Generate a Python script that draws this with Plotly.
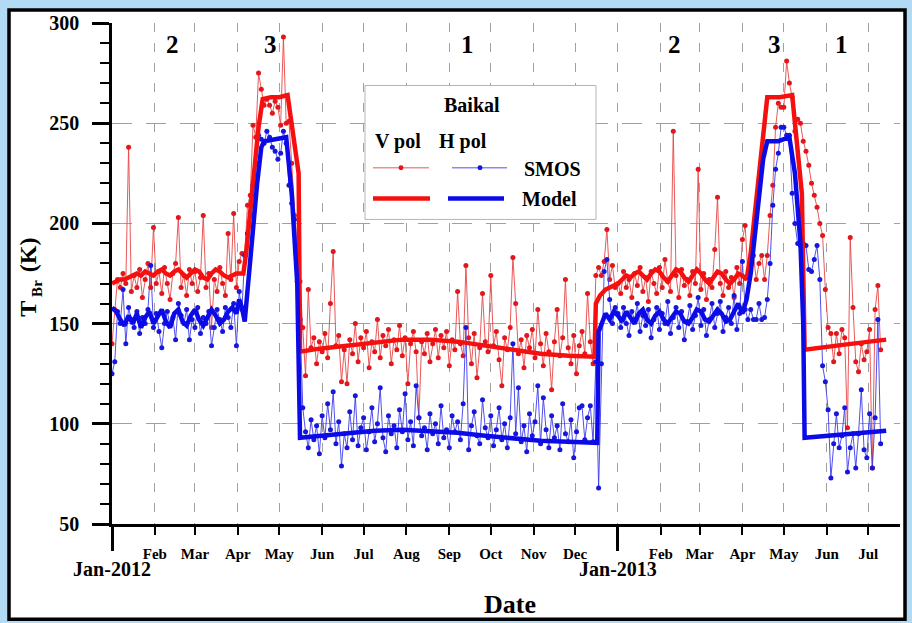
import pandas as pd
import plotly.graph_objects as go

SERIF = "Liberation Serif"

# ---------------- SMOS observations (one value every 2 days per segment) ----------------
seg_starts = ["2012-01-01", "2012-04-06", "2012-05-18", "2012-12-18",
              "2013-01-01", "2013-04-07", "2013-06-02"]

v_winter_2012 = [140, 157, 172, 168, 175, 170, 238, 166, 174, 168,
                 177, 163, 172, 180, 168, 198, 170, 176, 165, 178,
                 170, 162, 175, 180, 203, 168, 174, 164, 177, 170,
                 176, 166, 173, 204, 168, 175, 148, 172, 166, 178,
                 170, 164, 195, 172, 205, 168, 181, 185]
h_winter_2012 = [125, 131, 156, 150, 167, 140, 158, 152, 148, 156,
                 145, 153, 150, 157, 179, 148, 155, 146, 138, 150,
                 156, 149, 153, 142, 160, 154, 150, 157, 142, 152,
                 148, 158, 145, 153, 150, 156, 139, 148, 157, 152,
                 146, 158, 153, 148, 160, 139, 166, 157]

v_melt_2012 = [185, 209, 214, 249, 243, 275, 267, 259, 262, 259, 255,
               261, 258, 249, 293, 250, 251, 230, 204, 187, 171]
h_melt_2012 = [184, 195, 205, 219, 230, 244, 242, 240, 246, 243, 238,
               236, 232, 235, 246, 240, 219, 210, 202, 171, 152]

v_open_2012 = [148, 124, 167, 138, 143, 130, 141, 136, 145, 133,
               160, 186, 139, 144, 121, 137, 120, 142, 135, 150,
               131, 143, 138, 146, 128, 141, 136, 152, 133, 144,
               139, 147, 130, 142, 137, 149, 134, 143, 120, 140,
               146, 136, 103, 141, 135, 145, 131, 140, 147, 133,
               144, 138, 146, 129, 142, 137, 166, 140, 134, 179,
               143, 130, 145, 123, 138, 165, 141, 136, 174, 139,
               146, 132, 119, 143, 137, 148, 183, 160, 135, 142,
               128, 144, 138, 147, 133, 157, 140, 129, 145, 136,
               117, 141, 157, 134, 143, 172, 138, 130, 144, 125,
               139, 146, 135, 165, 141, 130, 174]
h_open_2012 = [108, 96, 88, 102, 92, 99, 85, 104, 93, 110,
               97, 116, 90, 101, 79, 95, 88, 106, 92, 114,
               89, 98, 103, 87, 96, 108, 91, 100, 118, 93,
               86, 104, 95, 99, 88, 107, 96, 115, 92, 101,
               89, 119, 103, 94, 98, 87, 105, 95, 100, 90,
               109, 93, 97, 88, 104, 96, 101, 92, 110, 148,
               87, 99, 106, 94, 90, 112, 98, 93, 104, 89,
               97, 108, 92, 100, 88, 103, 140, 95, 118, 91,
               99, 86, 105, 94, 101, 119, 90, 113, 97, 88,
               104, 93, 99, 87, 110, 95, 91, 102, 83, 96,
               108, 109, 92, 103, 109, 91, 131]

v_freeze_2012 = [178, 174, 181, 197, 172, 179, 168]
h_freeze_2012 = [68, 130, 176, 182, 162, 150, 158]

v_winter_2013 = [170, 165, 176, 168, 172, 163, 175, 169, 178, 166,
                 173, 161, 176, 170, 165, 178, 168, 182, 171, 166,
                 246, 174, 163, 177, 169, 172, 164, 176, 170, 227,
                 167, 175, 162, 172, 168, 187, 213, 170, 164, 176,
                 168, 173, 163, 178, 170, 192, 199, 174]
h_winter_2013 = [155, 148, 158, 150, 144, 156, 152, 160, 146, 154,
                 149, 157, 143, 152, 158, 147, 155, 150, 161, 145,
                 153, 158, 148, 156, 142, 151, 159, 147, 154, 163,
                 149, 157, 144, 152, 160, 148, 155, 161, 146, 153,
                 158, 150, 164, 147, 155, 181, 157, 152]

v_melt_2013 = [176, 184, 172, 180, 184, 172, 184, 204, 219, 248, 260, 258, 258, 281,
               270, 263, 246, 252, 250, 241, 236, 229, 220, 214, 208, 200, 194, 167]
h_melt_2013 = [157, 152, 152, 160, 152, 153, 162, 180, 209, 227, 235, 248, 248, 244,
               244, 215, 200, 190, 189, 190, 189, 177, 176, 182, 189, 172, 129, 121]

v_open_2013 = [148, 145, 131, 145, 135, 147, 143, 98, 193, 158,
               131, 126, 140, 132, 136, 147, 78, 157, 169, 137]
h_open_2013 = [107, 73, 90, 105, 88, 94, 108, 76, 88, 95,
               78, 95, 117, 87, 83, 105, 78, 103, 152, 90]

v_segments = [v_winter_2012, v_melt_2012, v_open_2012, v_freeze_2012,
              v_winter_2013, v_melt_2013, v_open_2013]
h_segments = [h_winter_2012, h_melt_2012, h_open_2012, h_freeze_2012,
              h_winter_2013, h_melt_2013, h_open_2013]

# ---------------- Model (days since 2012-01-01, K) ----------------
model_v_days = [0, 3, 6, 9, 12, 15, 18, 21, 24, 27, 30, 33, 36, 39, 42, 45, 48, 51, 54, 57,
                60, 63, 66, 69, 72, 75, 78, 81, 84, 87, 90, 93, 95, 97, 100, 103, 106, 109,
                115, 121, 127, 135, 136, 150, 170, 190, 210, 230, 250, 270, 290, 310, 330,
                349, 350, 353, 357, 362, 366, 369, 372, 375, 378, 381, 384, 387, 390, 393,
                396, 399, 402, 405, 408, 411, 414, 417, 420, 423, 426, 429, 432, 435, 438,
                441, 444, 447, 450, 453, 456, 459, 462, 465, 468, 471, 474, 483, 492, 499,
                501, 530, 560]
model_v = [170, 171, 172, 172, 173, 174, 175, 174, 176, 175, 174, 176, 177, 175, 174, 176,
           177, 175, 173, 175, 177, 176, 173, 172, 175, 177, 176, 174, 173, 174, 175, 175,
           175, 185, 205, 228, 248, 262, 263, 263, 264, 225, 136, 137.5, 139, 141, 142, 142,
           141, 139, 137, 135, 134, 133.5, 160, 164, 167, 169, 170, 172, 174, 173, 175, 176,
           174, 172, 175, 177, 176, 173, 171, 174, 177, 176, 173, 171, 174, 177, 175, 172,
           170, 173, 176, 175, 172, 170, 172, 175, 174, 172, 185, 205, 225, 248, 263, 263,
           264, 215, 137, 139.5, 142]

model_h_days = [0, 3, 6, 9, 12, 15, 18, 21, 24, 27, 30, 33, 36, 39, 42, 45, 48, 51, 54, 57,
                60, 63, 66, 69, 72, 75, 78, 81, 84, 87, 90, 92, 94, 96, 99, 102, 105, 108,
                110, 118, 126, 130, 134, 136, 150, 170, 190, 210, 230, 250, 270, 290, 310,
                330, 351, 352, 354, 357, 360, 363, 366, 369, 372, 375, 378, 381, 384, 387,
                390, 393, 396, 399, 402, 405, 408, 411, 414, 417, 420, 423, 426, 429, 432,
                435, 438, 441, 444, 447, 450, 453, 456, 459, 462, 465, 468, 471, 474, 482,
                490, 494, 498, 500, 501, 530, 560]
model_h = [158, 156, 152, 149, 154, 150, 155, 148, 153, 156, 150, 154, 157, 151, 148, 155,
           157, 151, 149, 154, 157, 152, 149, 153, 157, 154, 150, 152, 156, 158, 155, 162,
           158, 151, 175, 200, 220, 238, 241, 242, 243, 215, 170, 93, 94, 95.5, 96.5, 97,
           96.5, 95.5, 94, 92.5, 91.5, 91, 90.5, 146, 150, 155, 152, 156, 154, 151, 156,
           153, 150, 155, 157, 152, 150, 154, 156, 152, 150, 153, 156, 155, 151, 150, 153,
           157, 156, 152, 151, 154, 157, 155, 151, 152, 156, 160, 155, 162, 175, 195, 215,
           232, 241, 241, 243, 225, 190, 150, 93, 94.5, 96.5]

# ---------------- Axis labels ----------------
all_months = pd.date_range("2012-01-01", "2013-07-01", freq="MS")
month_ticks = [d for d in all_months if d.month != 1]
month_labels = [d.strftime("%b") for d in month_ticks]
year_ticks = ["2012-01-01", "2013-01-01"]
year_labels = ["Jan-2012", "Jan-2013"]

regime_dates = ["2012-02-14", "2012-04-25", "2012-09-14", "2013-02-11", "2013-04-24", "2013-06-12"]
regime_labels = ["2", "3", "1", "2", "3", "1"]

# ---------------- Build series ----------------
smos_dates, smos_v, smos_h = [], [], []
for start, vs, hs in zip(seg_starts, v_segments, h_segments):
    d = pd.date_range(start, periods=len(vs), freq="2D")
    smos_dates += list(d)
    smos_v += vs
    smos_h += hs

base = pd.Timestamp("2012-01-01")
mv_dates = base + pd.to_timedelta(model_v_days, unit="D")
mh_dates = base + pd.to_timedelta(model_h_days, unit="D")

RED_LINE = "rgba(232,70,70,0.9)"
RED_MK = "#e3161b"
BLUE_LINE = "rgba(60,60,235,0.9)"
BLUE_MK = "#1616dc"
RED_MODEL = "#f50f0f"
BLUE_MODEL = "#0b0be8"

fig = go.Figure()
fig.add_trace(go.Scatter(x=smos_dates, y=smos_v, mode="lines+markers",
                         line=dict(color=RED_LINE, width=1),
                         marker=dict(color=RED_MK, size=5), name="SMOS V"))
fig.add_trace(go.Scatter(x=smos_dates, y=smos_h, mode="lines+markers",
                         line=dict(color=BLUE_LINE, width=1),
                         marker=dict(color=BLUE_MK, size=5), name="SMOS H"))
fig.add_trace(go.Scatter(x=mv_dates, y=model_v, mode="lines",
                         line=dict(color=RED_MODEL, width=4.5), name="Model V"))
fig.add_trace(go.Scatter(x=mh_dates, y=model_h, mode="lines",
                         line=dict(color=BLUE_MODEL, width=4.5), name="Model H"))
# helper trace for the secondary (year) axis
fig.add_trace(go.Scatter(x=[year_ticks[0]], y=[None], xaxis="x2", mode="markers",
                         showlegend=False, hoverinfo="skip"))

L, R, T, B = 112, 12, 19, 99
PW, PH = 912 - L - R, 623 - T - B


def px(xp):
    return (xp - L) / PW


def py(yp):
    return (623 - B - yp) / PH


xr = ["2012-01-01", "2013-07-24"]
tick_font = dict(family=SERIF, size=15, color="black", weight="bold")
GRID = "#a0a0a0"

fig.update_layout(
    width=912, height=623, autosize=False,
    margin=dict(l=L, r=R, t=T, b=B, pad=0),
    paper_bgcolor="#b3daf5", plot_bgcolor="white",
    showlegend=False,
    xaxis=dict(type="date", range=xr, tickvals=month_ticks, ticktext=month_labels,
               ticks="outside", ticklen=8, tickwidth=2, tickcolor="black",
               showline=True, linecolor="black", linewidth=2.5,
               showgrid=True, gridcolor=GRID, griddash="9px,11px", gridwidth=1,
               zeroline=False, tickfont=tick_font, ticklabelstandoff=6),
    xaxis2=dict(type="date", range=xr, overlaying="x", anchor="y", side="bottom",
                tickvals=year_ticks, ticktext=year_labels,
                ticks="outside", ticklen=26, tickwidth=2.5, tickcolor="black",
                showline=False, showgrid=True, gridcolor=GRID, griddash="9px,11px",
                gridwidth=1, zeroline=False,
                tickfont=dict(family=SERIF, size=20, color="black", weight="bold"),
                ticklabelstandoff=1),
    yaxis=dict(range=[50, 300], tickvals=[50, 100, 150, 200, 250, 300],
               ticks="outside", ticklen=17, tickwidth=2.5, tickcolor="black",
               minor=dict(dtick=10, tick0=50, ticks="outside", ticklen=9, tickwidth=2,
                          tickcolor="black", showgrid=False),
               showline=True, linecolor="black", linewidth=2.5,
               showgrid=True, gridcolor=GRID, griddash="20px,14px", gridwidth=1,
               zeroline=False,
               tickfont=dict(family=SERIF, size=20, color="black", weight="bold"),
               ticklabelstandoff=9),
)

# outer white frame
fig.add_shape(type="rect", xref="paper", yref="paper",
              x0=px(9), x1=px(905), y0=py(620), y1=py(6),
              line=dict(color="black", width=3.5), fillcolor="white", layer="below")

# legend box
fig.add_shape(type="rect", xref="paper", yref="paper",
              x0=px(365), x1=px(596), y0=py(217), y1=py(82),
              line=dict(color="#b5b5b5", width=1), fillcolor="white", layer="above")
# legend swatches
fig.add_shape(type="line", xref="paper", yref="paper", x0=px(373), x1=px(429), y0=py(165), y1=py(165),
              line=dict(color=RED_LINE, width=1), layer="above")
fig.add_shape(type="line", xref="paper", yref="paper", x0=px(452), x1=px(507), y0=py(165), y1=py(165),
              line=dict(color=BLUE_LINE, width=1), layer="above")
fig.add_shape(type="circle", xref="paper", yref="paper", x0=px(398.5), x1=px(403.5), y0=py(167.5), y1=py(162.5),
              line=dict(color=RED_MK, width=0), fillcolor=RED_MK, layer="above")
fig.add_shape(type="circle", xref="paper", yref="paper", x0=px(477.5), x1=px(482.5), y0=py(167.5), y1=py(162.5),
              line=dict(color=BLUE_MK, width=0), fillcolor=BLUE_MK, layer="above")
fig.add_shape(type="line", xref="paper", yref="paper", x0=px(373), x1=px(430), y0=py(196), y1=py(196),
              line=dict(color=RED_MODEL, width=4.5), layer="above")
fig.add_shape(type="line", xref="paper", yref="paper", x0=px(448), x1=px(504), y0=py(196), y1=py(196),
              line=dict(color=BLUE_MODEL, width=4.5), layer="above")

bold20 = dict(family=SERIF, size=20, color="black", weight="bold")
for txt, xp, yp in [("Baikal", 472, 102), ("V pol", 398, 138), ("H pol", 463, 138),
                    ("SMOS", 552, 166), ("Model", 549, 196)]:
    fig.add_annotation(text=txt, xref="paper", yref="paper", x=px(xp), y=py(yp),
                       showarrow=False, xanchor="center", yanchor="middle", font=bold20)

for d, t in zip(regime_dates, regime_labels):
    fig.add_annotation(text=t, xref="x", yref="y", x=d, y=289.5, showarrow=False,
                       xanchor="center", yanchor="middle",
                       font=dict(family=SERIF, size=25, color="black", weight="bold"))

fig.add_annotation(text="Date", xref="paper", yref="paper", x=px(510), y=py(605),
                   showarrow=False, xanchor="center", yanchor="middle",
                   font=dict(family=SERIF, size=26, color="black", weight="bold"))

# y-axis title T_Br (K), rotated, built from three pieces
for txt, xp, yp, sz in [("T", 28, 307, 24), ("Br", 37, 287, 15), ("(K)", 28, 253, 24)]:
    fig.add_annotation(text=txt, xref="paper", yref="paper", x=px(xp), y=py(yp),
                       showarrow=False, xanchor="center", yanchor="middle", textangle=-90,
                       font=dict(family=SERIF, size=sz, color="black", weight="bold"))

fig.write_html("out.html")
